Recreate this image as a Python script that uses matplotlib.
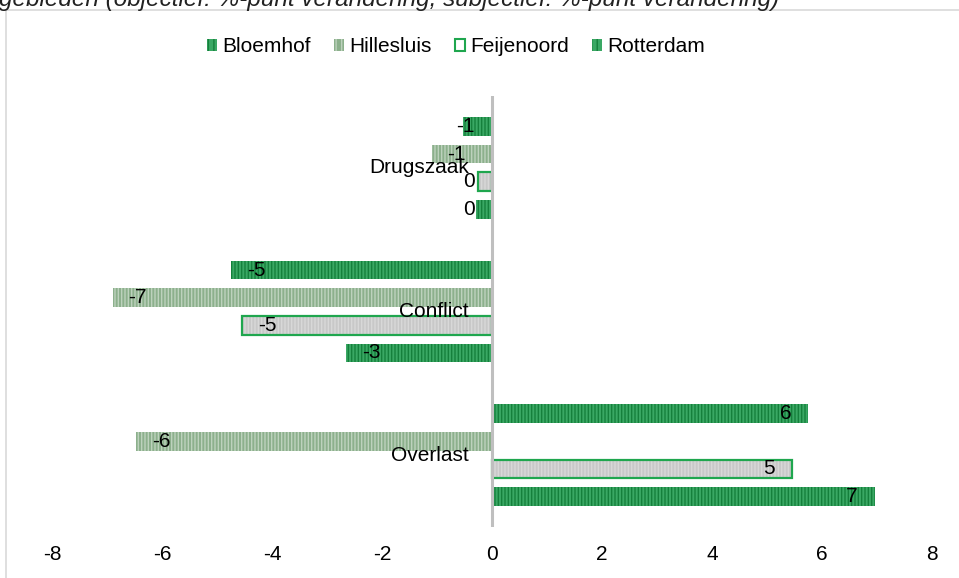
import matplotlib.pyplot as plt
from matplotlib.patches import Patch, Rectangle

plt.rcParams['font.family'] = ['Liberation Sans', 'DejaVu Sans']
plt.rcParams['hatch.linewidth'] = 1.0

categories = ["Drugszaak", "Conflict", "Overlast"]
series = ["Bloemhof", "Hillesluis", "Feijenoord", "Rotterdam"]
bloemhof = [-0.53, -4.75, 5.75]
hillesluis = [-1.1, -6.9, -6.47]
feijenoord = [-0.25, -4.55, 5.45]
rotterdam = [-0.3, -2.65, 6.96]
values = [bloemhof, hillesluis, feijenoord, rotterdam]
ticks = [-8, -6, -4, -2, 0, 2, 4, 6, 8]
title = "gebieden (objectief: %-punt verandering, subjectief: %-punt verandering)"

# face, hatch colour, border
styles = [
    ("#3aa864", "#15803c", None),
    ("#8cb08c", "#bdd2bd", None),
    ("#c8c8c8", "#d8d8d8", "#1fa64e"),
    ("#3aa864", "#15803c", None),
]

fig = plt.figure(figsize=(9.59, 5.78), dpi=100)
fig.patches.append(Rectangle((6 / 959, -0.1), 1.1, 1.1 - 10 / 578,
                             transform=fig.transFigure, fill=False,
                             edgecolor="#d9d9d9", linewidth=1.2))
fig.text(-1 / 959, 1 - 6 / 578, title, fontsize=17.5, style="italic",
         ha="left", va="baseline", color="#222222")

ax = fig.add_axes([52 / 959, 51 / 578, 880 / 959, 431 / 578])
pitch = 0.192
height = 0.13
fs = 15
for i, (vals, (fc, hc, ec)) in enumerate(zip(values, styles)):
    ys = [c + (i - 1.5) * pitch for c in range(len(categories))]
    ax.barh(ys, vals, height=height, color=fc, edgecolor=hc, hatch="|" * 5,
            linewidth=0, zorder=2)
    if ec:
        ax.barh(ys, vals, height=height, fill=False, edgecolor=ec,
                linewidth=1.6, zorder=3)
    for y, v in zip(ys, vals):
        lab = str(int(round(v)))
        if v < 0:
            w = 0.2 * len(lab)
            if v + 0.29 + w <= -0.31:
                ax.text(v + 0.29, y, lab, ha="left", va="center", fontsize=fs, zorder=5)
            else:
                ax.text(-0.31, y, lab, ha="right", va="center", fontsize=fs, zorder=5)
        else:
            ax.text(v - 0.31, y, lab, ha="right", va="center", fontsize=fs, zorder=5)

for c, name in enumerate(categories):
    ax.text(-0.42, c, name, ha="right", va="center", fontsize=fs, zorder=6)

ax.axvline(0, color="#bfbfbf", linewidth=2.2, zorder=4)
ax.set_xlim(-8, 8)
ax.set_ylim(2.5, -0.5)
ax.set_xticks(ticks)
ax.set_xticklabels([str(t) for t in ticks], fontsize=fs)
ax.set_yticks([])
ax.tick_params(axis="x", length=0, pad=13)
for s in ax.spines.values():
    s.set_visible(False)

handles = [
    Patch(facecolor=styles[0][0], edgecolor=styles[0][1], hatch="|||", linewidth=0),
    Patch(facecolor=styles[1][0], edgecolor=styles[1][1], hatch="|||", linewidth=0),
    Patch(facecolor="white", edgecolor=styles[2][2], linewidth=1.5),
    Patch(facecolor=styles[3][0], edgecolor=styles[3][1], hatch="|||", linewidth=0),
]
fig.legend(handles, series, loc="center", bbox_to_anchor=(456 / 959, 1 - 47 / 578),
           ncol=4, frameon=False, fontsize=fs, handlelength=0.5, handleheight=0.5,
           handletextpad=0.25, columnspacing=1.1)

fig.savefig("out.png", dpi=100)
